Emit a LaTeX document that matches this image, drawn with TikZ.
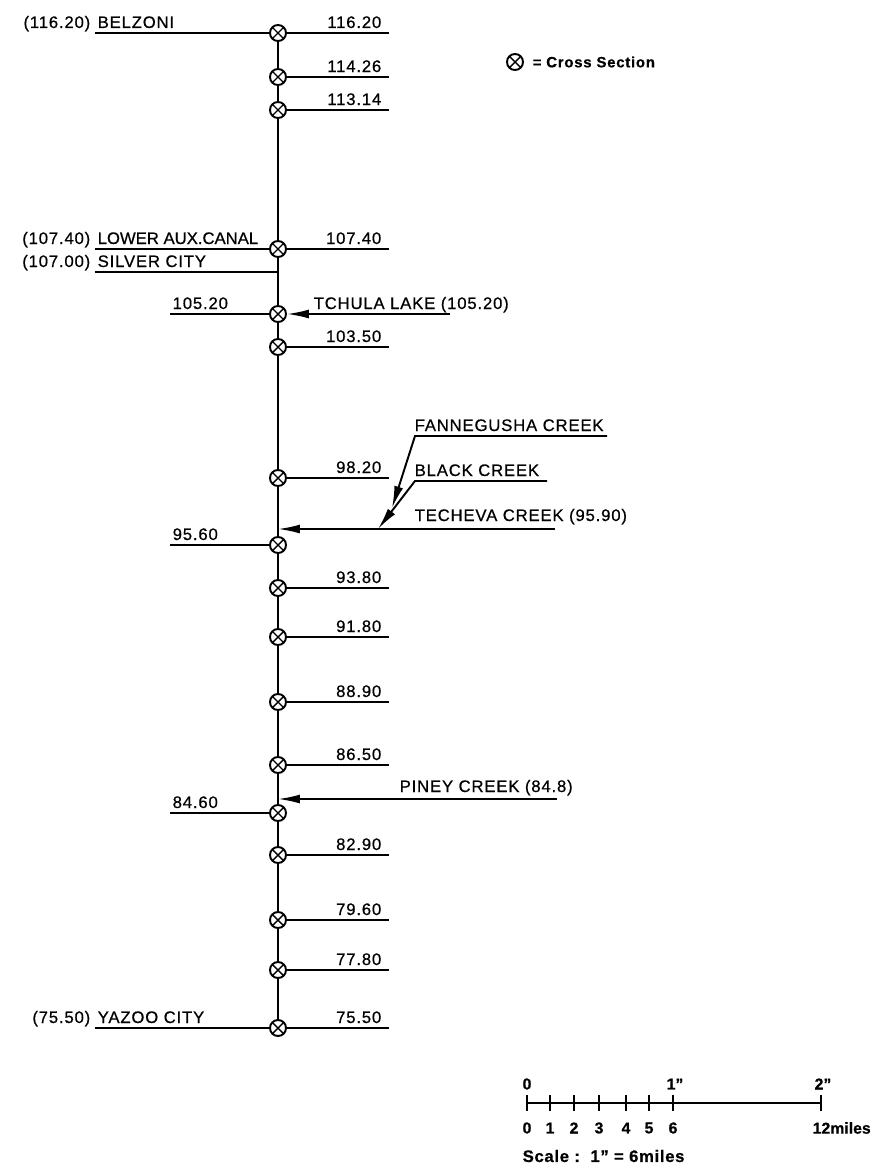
\documentclass[tikz,border=0pt]{standalone}
\usepackage{fontspec}
\setmainfont{Liberation Sans}[LetterSpace=5, FakeBold=0.6]
\usetikzlibrary{arrows.meta,positioning}

\begin{document}
\begin{tikzpicture}[
  x=0.02cm, y=-0.02cm, line width=1.1pt,
  >={Latex[length=4.4mm,width=1.8mm]},
  every node/.style={font=\fontsize{9.5}{11}\selectfont, inner sep=1pt},
  xsec/.style={circle, draw, fill=white, minimum size=3.2mm, inner sep=0pt,
    path picture={\draw[line width=0.8pt]
      (path picture bounding box.north west) -- (path picture bounding box.south east)
      (path picture bounding box.north east) -- (path picture bounding box.south west);}},
  up/.style={yshift=0.1cm},
  keytext/.style={font=\fontsize{8.5}{10}\selectfont\bfseries},
  scaletext/.style={font=\fontsize{9}{11}\selectfont\bfseries\addfontfeature{LetterSpace=0}}
]
  \useasboundingbox (0,0) rectangle (875,1166);

  \foreach \y [count=\i] in {33,77,110,249,314,347,478,545,588,637,702,765,813,855,920,970,1028}
    \node[xsec] (x\i) at (278,\y) {};
  \foreach \i in {2,...,17} {
    \pgfmathtruncatemacro\j{\i-1}
    \draw (x\j) -- (x\i);
  }

  \foreach \i/\km in {1/116.20,2/114.26,3/113.14,4/107.40,6/103.50,7/98.20,9/93.80,10/91.80,
                      11/88.90,12/86.50,14/82.90,15/79.60,16/77.80,17/75.50} {
    \path (x\i.center) ++(111,0) coordinate (r\i);
    \draw (x\i) -- (r\i) node[anchor=base east, up, xshift=-0.1cm] {\km};
  }
  \foreach \i/\km in {5/105.20,8/95.60,13/84.60} {
    \path (x\i.center) ++(-108,0) coordinate (l\i);
    \draw (x\i) -- (l\i) node[anchor=base west, up] {\km};
  }

  \coordinate (silver) at (278,272);
  \foreach \src/\y/\num/\town in {x1/33/116.20/BELZONI,
                                 x4/249/107.40/{\addfontfeature{LetterSpace=0}LOWER AUX.CANAL},
                                 silver/272/107.00/SILVER CITY, x17/1028/75.50/YAZOO CITY} {
    \coordinate (w\y) at (95,\y);
    \draw (\src) -- (w\y) node[anchor=base west, up] {\town}
                          node[anchor=base east, up, xshift=-0.04cm] {(\num)};
  }

  \coordinate (tchula) at (450,314);
  \draw[->] (tchula) -- (x5);
  \node[anchor=base west, up] (tchulalbl) at (311,314) {TCHULA LAKE (105.20)};

  \coordinate (fanA) at (607,436);
  \coordinate (fanB) at (415,436);
  \coordinate (fanC) at (392,508);
  \draw[->] (fanA) -- (fanB) -- (fanC);
  \node[anchor=base west, up] (fanlbl) at (412,436) {FANNEGUSHA CREEK};

  \coordinate (blkA) at (547,481);
  \coordinate (blkB) at (415,481);
  \coordinate (blkC) at (378,529);
  \draw[->] (blkA) -- (blkB) -- (blkC);
  \node[anchor=base west, up] (blklbl) at (412,481) {BLACK CREEK};

  \coordinate (tech) at (555,529);
  \coordinate (techin) at (278,529);
  \draw[->] (tech) -- (techin);
  \node[anchor=base west, up] (techlbl) at (412,526) {TECHEVA CREEK (95.90)};

  \coordinate (piney) at (557,799);
  \coordinate (pineyin) at (278,799);
  \draw[->] (piney) -- (pineyin);
  \node[anchor=base west, up] (pineylbl) at (397,797) {PINEY CREEK (84.8)};

  \node[xsec] (key) at (515,62) {};
  \node[keytext, right=0.12cm of key] (keylbl) {= Cross Section};

  \coordinate (s0) at (527,1103);
  \coordinate (s12) at (821,1103);
  \draw (s0) -- (s12);
  \foreach \m/\x in {0/527,1/550,2/574,3/599,4/626,5/649,6/673} {
    \draw (\x,1095) -- (\x,1111);
    \node[scaletext] at (\x,1128) {\m};
  }
  \draw (821,1095) -- (821,1111);
  \node[scaletext] at (527,1084) {0};
  \node[scaletext] at (675,1084) {1"};
  \node[scaletext] at (823,1084) {2"};
  \node[scaletext, anchor=west] at (810,1128) {12miles};
  \node[scaletext, anchor=west, font=\fontsize{9.5}{11}\selectfont\bfseries\addfontfeature{LetterSpace=4}]
    at (520,1156) {Scale\ :\ \ 1" = 6miles};
\end{tikzpicture}
\end{document}
